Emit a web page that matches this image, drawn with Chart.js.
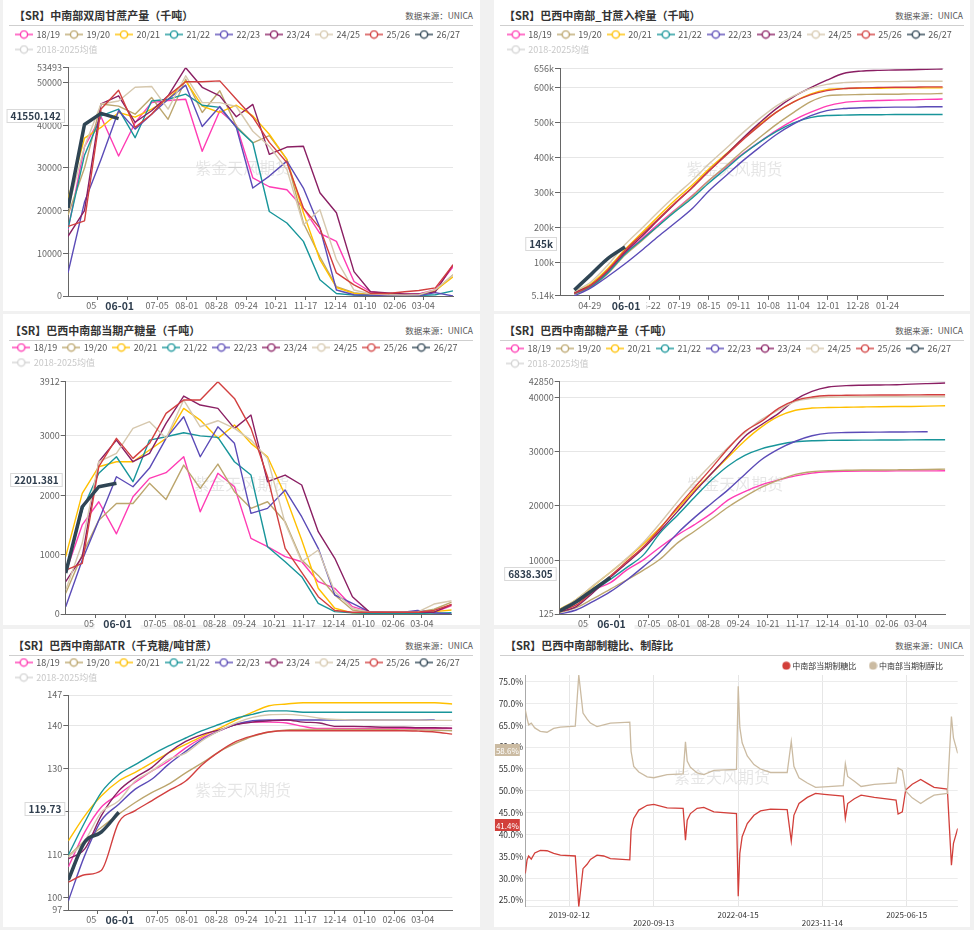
<!DOCTYPE html>
<html>
<head>
<meta charset="utf-8">
<title>巴西中南部甘蔗与食糖</title>
<script src="https://cdn.jsdelivr.net/npm/chart.js@4.4.1/dist/chart.umd.min.js"></script>
<style>
body{margin:0;width:974px;height:930px;background:#f1f1f1;position:relative;overflow:hidden;font-family:"Noto Sans CJK SC",sans-serif}
.panel{position:absolute;background:#fff}
.title{position:absolute;top:8px;font-size:11px;font-weight:bold;color:#333;line-height:14px;white-space:nowrap}
.src{position:absolute;top:9px;right:7px;font-size:8.5px;color:#555;line-height:12px;white-space:nowrap}
.rule{position:absolute;top:25px;left:6px;width:464px;height:1px;background:#cfcfcf}
.low .title{top:9px}
.low .src{top:10px}
.low .rule{top:26px}
canvas{position:absolute}
</style>
</head>
<body>

<div class="panel" style="left:3px;top:0;width:477px;height:311px">
<div class="title" style="left:11px">【SR】中南部双周甘蔗产量（千吨）</div>
<div class="src">数据来源：UNICA</div>
<div class="rule"></div>
</div>
<div class="panel" style="left:494px;top:0;width:476px;height:311px">
<div class="title" style="left:10px">【SR】巴西中南部_甘蔗入榨量（千吨）</div>
<div class="src">数据来源：UNICA</div>
<div class="rule"></div>
</div>
<div class="panel low" style="left:3px;top:314px;width:477px;height:311px">
<div class="title" style="left:7px">【SR】巴西中南部当期产糖量（千吨）</div>
<div class="src">数据来源：UNICA</div>
<div class="rule"></div>
</div>
<div class="panel low" style="left:494px;top:314px;width:476px;height:311px">
<div class="title" style="left:10px">【SR】巴西中南部糖产量（千吨）</div>
<div class="src">数据来源：UNICA</div>
<div class="rule"></div>
</div>
<div class="panel low" style="left:3px;top:629px;width:477px;height:298px">
<div class="title" style="left:10px">【SR】巴西中南部ATR（千克糖/吨甘蔗）</div>
<div class="src">数据来源：UNICA</div>
<div class="rule"></div>
</div>
<div class="panel low" style="left:494px;top:629px;width:476px;height:298px">
<div class="title" style="left:11px">【SR】巴西中南部制糖比、制醇比</div>
<div class="src">数据来源：UNICA</div>
<div class="rule"></div>
</div>

<canvas id="cane" width="477" height="287" style="left:3px;top:24px"></canvas>
<canvas id="crush" width="476" height="287" style="left:494px;top:24px"></canvas>
<canvas id="sugar" width="477" height="292" style="left:3px;top:337px"></canvas>
<canvas id="sugarCum" width="476" height="291" style="left:494px;top:338px"></canvas>
<canvas id="atr" width="477" height="273" style="left:3px;top:652px"></canvas>
<canvas id="mix" width="476" height="283" style="left:494px;top:647px"></canvas>

<script>
const FONT='"Noto Sans CJK SC", sans-serif'
Chart.defaults.font.family=FONT

const seasons=['18/19','19/20','20/21','21/22','22/23','23/24','24/25','25/26','26/27']
const avgName='2018-2025均值'
const seasonColors=['#ff3cb4','#bca66e','#ffc000','#18959a','#5b4bb7','#8a1f63','#d6c8ae','#d23f3f','#2f4554']
const periodEnds=['04-15','04-30','05-15','05-31','06-15','06-30','07-15','07-31','08-15','08-31','09-15','09-30','10-15','10-31','11-15','11-30','12-15','12-31','01-15','01-31','02-15','02-28','03-15','03-31']
const currentDate='06-01'

// x tick labels (every 27 days)
const ticksA=['05-12','06-08','07-05','08-01','08-28','09-24','10-21','11-17','12-14','01-10','02-06','03-04']
const ticksB=['04-29','05-26','06-22','07-19','08-15','09-11','10-08','11-04','12-01','12-28','01-24']

// y tick labels
const caneTicks=[0,10000,20000,30000,40000,50000,53493]
const crushTicks=[5140,100000,200000,300000,400000,500000,600000,656000]
const sugarTicks=[0,1000,2000,3000,3912]
const sugarCumTicks=[125,10000,20000,30000,40000,42850]
const atrTicks=[97,100,110,120,130,140,147]
const mixTicks=[25,30,35,40,45,50,55,60,65,70,75]

// rows: 18/19 ... 26/27
const caneBiweekly=[
[15500,35000,42000,32800,40600,45300,45800,46100,33900,43400,40000,27700,25600,24900,20600,14700,12800,3400,1000,500,400,500,1500,6800],
[19000,30000,45000,44500,42600,46500,41400,50800,43000,48100,39800,35900,37600,32000,17100,9200,2200,800,300,200,200,300,1200,5000],
[22600,37000,39500,43000,41900,43800,46100,50400,44500,43000,44700,42200,37900,32000,19500,8500,2000,600,300,200,200,300,1300,4500],
[15800,33000,42200,43800,37100,45700,46100,47300,44700,44200,39500,35900,19800,17100,12800,3800,600,200,100,100,100,100,300,1200],
[5400,22000,32000,43400,39100,42600,46100,49400,39700,44400,39500,25300,28100,31600,25300,16000,1400,300,200,100,100,100,800,0],
[14000,20000,45000,46900,40700,43400,46900,53493,48900,46900,42000,44900,33200,34900,35100,24200,19500,5700,1000,700,500,500,1000,7300],
[20500,35000,45000,45700,48900,49100,43800,51600,45300,45300,44400,38600,35100,29600,16700,20200,8500,1400,500,300,200,300,1500,4900],
[16300,17600,43800,48200,39500,42600,46900,50200,50200,50400,46100,41900,36000,31300,20600,15900,5400,2600,600,600,1000,1300,1900,7300],
[20600,40200,42800,41550.142]
]

const caneCrush=[
[12000,34000,72000,128000,168000,210000,250000,292000,335000,375000,412000,445000,478000,508000,530000,548000,558000,562000,564000,565000,566000,567000,568000],
[10000,30000,68000,122000,162000,205000,248000,290000,335000,378000,420000,458000,495000,530000,560000,577000,580000,581000,582000,582000,583000,583000,584000],
[15000,40000,82000,138000,185000,232000,278000,322000,368000,412000,455000,495000,530000,560000,582000,595000,598000,599000,599000,600000,600000,600000,600000],
[11000,32000,70000,125000,165000,205000,245000,285000,328000,370000,410000,445000,475000,500000,515000,521000,522000,523000,523000,524000,524000,524000,524000],
[5140,28000,60000,97000,135000,175000,213000,255000,305000,350000,392000,430000,466000,497000,520000,535000,541000,543000,544000,545000,545000,546000,546000],
[14000,36000,76000,130000,175000,222000,268000,315000,362000,410000,457000,500000,540000,575000,600000,622000,641000,648000,650000,651000,652000,653000,654000],
[17000,45000,92000,152000,198000,245000,290000,335000,382000,428000,472000,512000,548000,577000,598000,610000,615000,617000,618000,618000,619000,619000,619000],
[12000,35000,78000,135000,180000,225000,270000,315000,362000,408000,452000,492000,530000,560000,580000,592000,598000,600000,601000,602000,602000,603000,603000],
[22000,66000,111000,145000]
]

const sugarBiweekly=[
[700,1500,1890,1350,1975,2284,2380,2648,1722,2369,2143,1274,1133,965,880,544,433,123,40,30,30,30,30,140],
[350,1000,1580,1860,1860,2200,1930,2508,2116,2525,2059,1780,1890,1554,909,650,320,67,30,30,30,30,80,200],
[965,2032,2480,2564,2564,2761,2958,3463,3266,2958,3182,2874,2648,2000,1246,433,96,20,10,10,10,10,40,67],
[740,1750,2369,2648,2228,2929,2985,3052,3000,2975,2564,2340,1133,880,628,180,40,20,10,10,10,10,15,20],
[123,909,1580,2311,2143,2458,2958,3322,2648,3153,2874,1695,1779,2088,1638,1106,320,180,40,30,30,60,20,0],
[544,965,2564,2929,2564,2705,3210,3670,3519,3463,3126,3350,2228,2340,2172,1386,938,291,40,30,30,30,30,160],
[400,1195,2564,2705,3126,3238,2958,3603,3153,3255,3126,2929,2621,1527,880,1077,375,96,30,30,30,30,168,224],
[740,853,2480,2958,2621,2874,3378,3603,3603,3912,3631,3126,2311,1106,700,291,60,30,30,30,30,30,60,160],
[690,1806,2143,2201.381]
]

const sugarCum=[
[549,2703,4545,5890,8228,10070,12410,14670,16515,18670,21120,22650,23880,24800,25540,26040,26280,26380,26420,26430,26440,26440,26450,26460],
[400,1300,2900,4700,6400,8200,10200,13200,15300,17600,19800,21700,23400,24800,25800,26300,26500,26550,26600,26620,26640,26660,26700,26770],
[1000,2800,5200,7800,10300,13000,16000,19500,22800,26000,29000,32000,34500,36500,37600,38000,38100,38150,38200,38250,38280,38300,38350,38430],
[700,2200,4300,6500,8700,11000,15000,18300,21500,24800,27400,29300,30500,31300,31800,32000,32050,32080,32100,32120,32140,32150,32160,32170],
[125,862,2390,4230,6390,8836,11500,15000,17800,20500,23000,25800,28500,30500,31900,32900,33400,33500,33550,33580,33600,33620,33640],
[550,1500,4000,6900,9500,12200,15400,19000,22500,26000,29300,32780,34930,37080,39540,41060,41870,42120,42200,42250,42300,42400,42500,42600],
[900,2800,5300,7800,10400,13300,16800,20800,24300,27700,30800,33500,35900,37690,39220,39800,40000,40050,40080,40100,40110,40120,40130,40140],
[700,1800,4300,7100,9800,12500,15800,19800,23300,27000,30600,33700,35540,38000,39400,40030,40300,40350,40380,40400,40410,40420,40440,40455],
[700,2390,4545,6838.305]
]

const atr=[
[107.0,115.1,120.9,123.9,126.7,129.3,131.6,134.7,137.0,138.7,140.2,140.7,140.7,140.5,139.7,139.2,139.2,139.2,139.2,139.2,139.2,139.2,139.2,139.2],
[109.5,113.1,116.2,119.3,122.0,124.3,126.2,128.9,131.2,133.9,135.8,137.4,138.4,138.9,139.0,139.0,139.0,139.0,139.0,139.0,138.9,138.9,138.8,138.7],
[113.1,118.9,123.5,127.0,129.0,131.2,133.5,135.5,137.4,139.3,141.2,143.0,144.5,144.9,145.2,145.2,145.2,145.2,145.2,145.2,145.2,145.2,145.2,144.9],
[109.8,117.4,124.3,128.5,130.8,133.1,135.1,137.0,138.7,140.2,141.6,142.5,143.3,143.3,143.0,143.0,143.0,143.0,143.0,143.0,143.0,143.0,143.0,143.0],
[99.1,109.7,117.8,121.6,125.1,127.4,130.8,133.9,136.6,138.7,140.2,141.0,141.2,141.2,141.2,141.2,141.2,141.2,141.2,141.2,141.2,141.2,141.2],
[108.9,111.2,118.9,124.7,127.8,130.1,133.5,136.2,137.8,138.9,140.1,140.7,141.0,141.2,140.7,140.5,139.7,139.7,139.6,139.5,139.5,139.4,139.4,139.3],
[109.3,113.1,119.7,122.4,127.0,129.3,132.0,133.5,136.4,138.7,140.5,141.8,142.4,142.5,142.2,141.6,141.3,141.2,141.2,141.2,141.2,141.2,141.1,141.1],
[103.5,105.2,106.2,117.4,120.1,122.4,124.7,127.0,130.8,133.9,136.2,137.5,138.4,138.7,138.7,138.7,138.7,138.7,138.7,138.7,138.7,138.6,138.4,137.9],
[104.0,112.8,115.1,119.73]
]

const mixNames=['中南部当期制糖比','中南部当期制醇比']
const mixColors=['#d23f3a','#cbbba2']
const mixDates=['2018-04-16','2018-04-28','2018-05-09','2018-05-27','2018-06-20','2018-07-28','2018-09-12','2018-10-28','2018-12-13','2019-03-25','2019-04-18','2019-05-17','2019-06-14','2019-07-07','2019-08-21','2019-10-06','2019-11-21','2020-04-02','2020-04-11','2020-04-29','2020-06-03','2020-07-30','2020-09-14','2020-12-14','2021-04-03','2021-04-19','2021-05-01','2021-05-23','2021-07-08','2021-08-23','2021-10-31','2022-04-04','2022-04-16','2022-04-27','2022-05-13','2022-06-17','2022-08-02','2022-09-16','2022-11-24','2023-03-18','2023-04-15','2023-05-03','2023-06-07','2023-08-03','2023-09-29','2023-11-28','2024-04-06','2024-04-20','2024-05-06','2024-06-21','2024-08-06','2024-11-05','2025-04-03','2025-04-17','2025-05-16','2025-06-08','2025-07-23','2025-09-19','2025-11-03','2025-12-20','2026-03-21','2026-04-18','2026-05-02','2026-05-31']
const sugarMix=[31.1,34.2,35.1,34.4,35.8,36.4,36.3,35.7,35.3,35.1,23.5,32.2,33.2,34.3,35.3,35.1,34.5,34.2,41.0,43.7,45.6,46.7,46.9,46.1,46.0,38.7,43.3,44.8,46.0,46.2,45.2,44.8,25.9,35.7,39.5,42.5,44.4,45.4,45.8,45.7,38.5,44.4,47.1,48.5,49.4,49.2,48.8,43.7,47.1,48.2,49.0,48.5,47.9,44.7,45.2,50.2,51.5,52.6,51.7,50.8,50.4,33.0,38.0,41.4]
const ethanolMix=[68.5,66.6,65.1,65.5,64.4,63.6,63.4,64.3,64.6,64.8,76.5,67.8,66.4,65.5,64.7,65.1,65.5,65.7,59.0,55.6,54.3,53.2,53.0,53.7,53.9,61.2,56.8,55.4,54.1,53.7,54.7,54.9,73.9,64.5,61.0,58.0,56.0,55.0,54.2,54.2,61.3,55.6,53.0,51.8,50.8,50.9,51.2,56.2,53.3,52.2,51.0,51.5,51.8,55.2,54.7,50.0,48.4,47.1,48.1,49.0,49.4,67.0,62.1,58.6]
const mixAxisDates=['2019-02-12','2020-09-13','2022-04-15','2023-11-14','2025-06-15']

function seasonDay(md){
  const [m,d]=md.split('-').map(Number)
  return (Date.UTC(m>=4?2001:2002,m-1,d)-Date.UTC(2001,3,1))/864e5
}

function dayNum(s){
  return Date.parse(s)/864e5
}

function lineMark(color){
  const c=document.createElement('canvas')
  c.width=18
  c.height=10
  const g=c.getContext('2d')
  g.strokeStyle=color
  g.lineWidth=1.4
  g.beginPath()
  g.moveTo(0,5)
  g.lineTo(18,5)
  g.stroke()
  g.beginPath()
  g.arc(9,5,3.6,0,Math.PI*2)
  g.fillStyle='#fff'
  g.fill()
  g.stroke()
  return c
}

function dotMark(color){
  const c=document.createElement('canvas')
  c.width=9
  c.height=9
  const g=c.getContext('2d')
  g.fillStyle=color
  g.beginPath()
  g.arc(4.5,4.5,4,0,Math.PI*2)
  g.fill()
  return c
}

const legendBox={
  id:'legendBox',
  beforeInit(chart,args,opts){
    const lg=chart.legend
    if(!lg) return
    const fit=lg.fit.bind(lg)
    lg.fit=function(){
      fit()
      this.height=opts.height
    }
  }
}

const watermark={
  id:'watermark',
  beforeDatasetsDraw(chart){
    const a=chart.chartArea
    const ctx=chart.ctx
    ctx.save()
    ctx.font='16px '+FONT
    ctx.fillStyle='rgba(0,0,0,0.1)'
    ctx.textAlign='center'
    ctx.textBaseline='middle'
    ctx.fillText('紫金天风期货',a.left+a.width*0.455,a.top+a.height*0.44)
    ctx.restore()
  }
}

const pointerLabels={
  id:'pointerLabels',
  afterDraw(chart,args,opts){
    const ctx=chart.ctx
    const area=chart.chartArea
    const ys=chart.scales.y
    const xs=chart.scales.x
    ctx.save()
    ctx.textAlign='center'
    ctx.textBaseline='middle'
    ;(opts.ys||[]).forEach(p=>{
      ctx.font=p.font
      const w=ctx.measureText(p.text).width+p.pad
      const right=area.left-p.gap
      const y=Math.round(ys.getPixelForValue(p.value)-3)
      ctx.fillStyle=p.bg
      ctx.fillRect(right-w,y-p.h/2,w,p.h)
      if(p.border){
        ctx.strokeStyle=p.border
        ctx.lineWidth=1
        ctx.strokeRect(right-w+0.5,y-p.h/2+0.5,w-1,p.h-1)
      }
      ctx.fillStyle=p.color
      ctx.fillText(p.text,right-w/2,y+0.5)
    })
    if(opts.x){
      const p=opts.x
      const x=xs.getPixelForValue(p.value)
      ctx.fillStyle='#fff'
      ctx.fillRect(x-p.half,xs.top+4.5,p.half*2,12)
      ctx.font='bold 10.5px '+FONT
      ctx.fillStyle='#2f3e4e'
      ctx.fillText(p.text,x,xs.top+10)
    }
    ctx.restore()
  }
}

function seasonChart(id,o){
  const box=o.box
  const sets=o.series.map((vals,i)=>({
    label:seasons[i],
    data:vals.map((v,k)=>({x:seasonDay(o.periods[k]),y:v})),
    borderColor:seasonColors[i],
    backgroundColor:seasonColors[i],
    borderWidth:i===8?3.5:1.4,
    pointRadius:0,
    borderJoinStyle:'round',
    cubicInterpolationMode:o.smooth?'monotone':'default',
    tension:0,
    order:8-i
  }))
  sets.push({label:avgName,data:[],borderColor:'#ccc',pointRadius:0,order:9})
  const cur=o.series[8]
  const curVal=cur[cur.length-1]

  return new Chart(document.getElementById(id),{
    type:'line',
    data:{datasets:sets},
    plugins:[legendBox,watermark,pointerLabels],
    options:{
      responsive:false,
      devicePixelRatio:1,
      animation:false,
      events:[],
      layout:{padding:{left:box.padL,right:0,top:0,bottom:0}},
      plugins:{
        tooltip:{enabled:false},
        legend:{
          position:'top',
          align:'start',
          labels:{
            usePointStyle:true,
            pointStyleWidth:16,
            boxHeight:9,
            padding:6,
            color:'#555',
            font:{size:9,family:FONT},
            sort:(a,b)=>a.datasetIndex-b.datasetIndex,
            generateLabels(chart){
              return Chart.defaults.plugins.legend.labels.generateLabels(chart).map(it=>{
                const ds=chart.data.datasets[it.datasetIndex]
                const muted=ds.label===avgName
                it.pointStyle=lineMark(muted?'#d4d4d4':ds.borderColor)
                it.hidden=false
                if(muted) it.fontColor='#c8c8c8'
                return it
              })
            }
          }
        },
        legendBox:{height:box.legH},
        pointerLabels:{
          ys:[{value:curVal,text:o.yFmt(curVal),font:'bold 10px '+FONT,pad:8,gap:3,h:14,bg:'#fff',border:'#d9d9d9',color:'#2f3e4e'}],
          x:{value:seasonDay(currentDate),text:currentDate,half:o.half}
        }
      },
      scales:{
        x:{
          type:'linear',
          min:seasonDay(o.xRange[0]),
          max:seasonDay(o.xRange[1]),
          afterBuildTicks(s){s.ticks=o.xTicks.map(d=>({value:seasonDay(d)}))},
          afterFit(s){s.height=box.xH},
          ticks:{autoSkip:false,maxRotation:0,padding:0,color:'#666',font:{size:9},callback:(v,i)=>o.xTicks[i]},
          grid:{drawOnChartArea:false,tickLength:4,tickColor:'#666'},
          border:{color:'#666'}
        },
        y:{
          type:'linear',
          min:o.yTicks[0],
          max:o.yTicks[o.yTicks.length-1],
          afterBuildTicks(s){s.ticks=o.yTicks.map(v=>({value:v}))},
          afterFit(s){s.width=box.yW},
          ticks:{autoSkip:false,padding:1,color:'#666',font:{size:9},callback:v=>o.yFmt(v)},
          grid:{color:'#e6e6e6',tickLength:5,tickColor:'#666'},
          border:{color:'#666'}
        },
        yr:{
          type:'linear',
          position:'right',
          grid:{display:false},
          ticks:{display:false},
          border:{display:false},
          afterFit(s){s.width=box.rW}
        }
      }
    }
  })
}

seasonChart('cane',{
  series:caneBiweekly,periods:periodEnds,smooth:false,
  yTicks:caneTicks,yFmt:v=>String(v),
  xRange:['04-15','03-31'],xTicks:ticksA,half:23,
  box:{padL:7,yW:58,legH:43.7,xH:15,rW:27}
})

seasonChart('crush',{
  series:caneCrush,periods:periodEnds,smooth:true,
  yTicks:crushTicks,yFmt:v=>(v/1000)+'k',
  xRange:['04-02','03-16'],xTicks:ticksB,half:20.5,
  box:{padL:7.7,yW:58.3,legH:44.3,xH:15.1,rW:26.3}
})

seasonChart('sugar',{
  series:sugarBiweekly,periods:periodEnds,smooth:false,
  yTicks:sugarTicks,yFmt:v=>String(v),
  xRange:['04-15','03-31'],xTicks:ticksA,half:23,
  box:{padL:4.3,yW:58.4,legH:44.7,xH:15,rW:28.3}
})

seasonChart('sugarCum',{
  series:sugarCum,periods:periodEnds,smooth:true,
  yTicks:sugarCumTicks,yFmt:v=>String(v),
  xRange:['04-15','03-31'],xTicks:ticksA,half:23,
  box:{padL:7,yW:58.7,legH:43.7,xH:15,rW:24.7}
})

seasonChart('atr',{
  series:atr,periods:periodEnds,smooth:true,
  yTicks:atrTicks,yFmt:v=>String(v),
  xRange:['04-15','03-31'],xTicks:ticksA,half:23,
  box:{padL:6.7,yW:58.6,legH:43,xH:15,rW:27.7}
})

function mixChart(){
  const series=[sugarMix,ethanolMix]
  const sets=series.map((vals,i)=>({
    label:mixNames[i],
    data:vals.map((v,k)=>({x:dayNum(mixDates[k]),y:v})),
    borderColor:mixColors[i],
    backgroundColor:mixColors[i],
    borderWidth:1.3,
    pointRadius:0,
    tension:0,
    order:1-i
  }))
  const lastS=sugarMix[sugarMix.length-1]
  const lastE=ethanolMix[ethanolMix.length-1]
  const yMin=Math.min(...sugarMix,...ethanolMix)
  const yMax=Math.max(...sugarMix,...ethanolMix)

  new Chart(document.getElementById('mix'),{
    type:'line',
    data:{datasets:sets},
    plugins:[legendBox,watermark,pointerLabels],
    options:{
      responsive:false,
      devicePixelRatio:1,
      animation:false,
      events:[],
      layout:{padding:{left:0,right:0,top:0,bottom:0}},
      plugins:{
        tooltip:{enabled:false},
        legend:{
          position:'top',
          align:'end',
          fullSize:false,
          labels:{
            usePointStyle:true,
            pointStyleWidth:4,
            boxHeight:8,
            padding:14.7,
            color:'#333',
            font:{size:8,family:FONT},
            sort:(a,b)=>a.datasetIndex-b.datasetIndex,
            generateLabels(chart){
              return Chart.defaults.plugins.legend.labels.generateLabels(chart).map(it=>{
                it.pointStyle=dotMark(mixColors[it.datasetIndex])
                it.hidden=false
                return it
              })
            }
          }
        },
        legendBox:{height:28},
        pointerLabels:{
          ys:[
            {value:lastE,text:lastE.toFixed(1)+'%',font:'8px '+FONT,pad:2,gap:5.5,h:12,bg:mixColors[1],color:'#fff'},
            {value:lastS,text:lastS.toFixed(1)+'%',font:'8px '+FONT,pad:2,gap:5.5,h:12,bg:mixColors[0],color:'#fff'}
          ]
        }
      },
      scales:{
        x:{
          type:'linear',
          min:dayNum(mixDates[0]),
          max:dayNum(mixDates[mixDates.length-1]),
          afterBuildTicks(s){s.ticks=mixAxisDates.map(d=>({value:dayNum(d)}))},
          afterFit(s){s.height=23.3},
          ticks:{autoSkip:false,maxRotation:0,padding:4.5,color:'#333',font:{size:8,lineHeight:0.96},
            callback:(v,i)=>i%2?['',mixAxisDates[i]]:mixAxisDates[i]},
          grid:{color:'#e6e6e6',drawTicks:false},
          border:{color:'#e6e6e6'}
        },
        y:{
          type:'linear',
          min:yMin,
          max:yMax,
          afterBuildTicks(s){s.ticks=mixTicks.map(v=>({value:v}))},
          afterFit(s){s.width=31.3},
          ticks:{autoSkip:false,padding:2.3,color:'#333',font:{size:8.5},callback:v=>v.toFixed(1)+'%'},
          grid:{color:'#ececec',drawTicks:false},
          border:{color:'#aaa'}
        },
        yr:{
          type:'linear',
          position:'right',
          grid:{display:false},
          ticks:{display:false},
          border:{display:false},
          afterFit(s){s.width=12.3}
        }
      }
    }
  })
}

mixChart()
</script>
</body>
</html>
